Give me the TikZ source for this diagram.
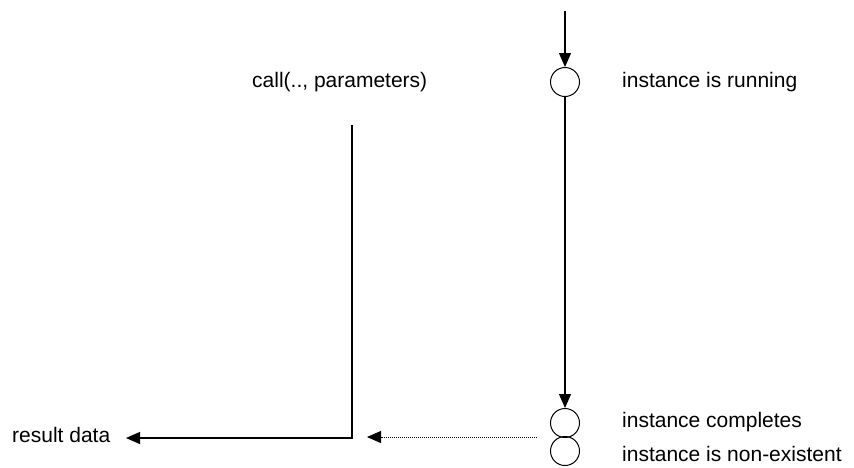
\documentclass[tikz,border=0pt]{standalone}
\usepackage{fontspec}
\setmainfont{Liberation Sans}
\usetikzlibrary{arrows.meta,calc}

\begin{document}
\begin{tikzpicture}[x=1pt,y=-1pt,
  state/.style={draw,circle,line width=1pt,minimum size=29pt,inner sep=0pt},
  lbl/.style={anchor=base west,inner sep=0pt,font=\fontsize{21}{25}\selectfont},
  flow/.style={line width=1.2pt,-{Triangle[length=14pt,width=12pt]}},
  back/.style={line width=0.9pt,dash pattern=on 1pt off 1pt,-{Triangle[length=14pt,width=12pt]}}]
\useasboundingbox (0,0) rectangle (854,467);

\node[state] (run) at (565,82) {};
\node[state] (done) at (565,423) {};
\node[state] (gone) at (565,451) {};

\coordinate (start) at (565,11);
\coordinate (calltop) at (352,125);
\coordinate (corner) at (352,438);
\coordinate (result) at (126,438);
\coordinate (from) at (537,437);
\coordinate (to) at (367,437);

\draw[flow] (start) -- (run.north);
\draw[flow] (run.south) -- (done.north);
\draw[flow] (calltop) -- (corner) -- (result);
\draw[back] (from) -- (to);

\node[lbl] (calltxt) at (252,87) {call(.., parameters)};
\node[lbl] (runtxt) at (622,87) {instance is running};
\node[lbl] (donetxt) at (622,427) {instance completes};
\node[lbl] (gonetxt) at (622,461) {instance is non-existent};
\node[lbl] (restxt) at (12,442) {result data};

\end{tikzpicture}
\end{document}
